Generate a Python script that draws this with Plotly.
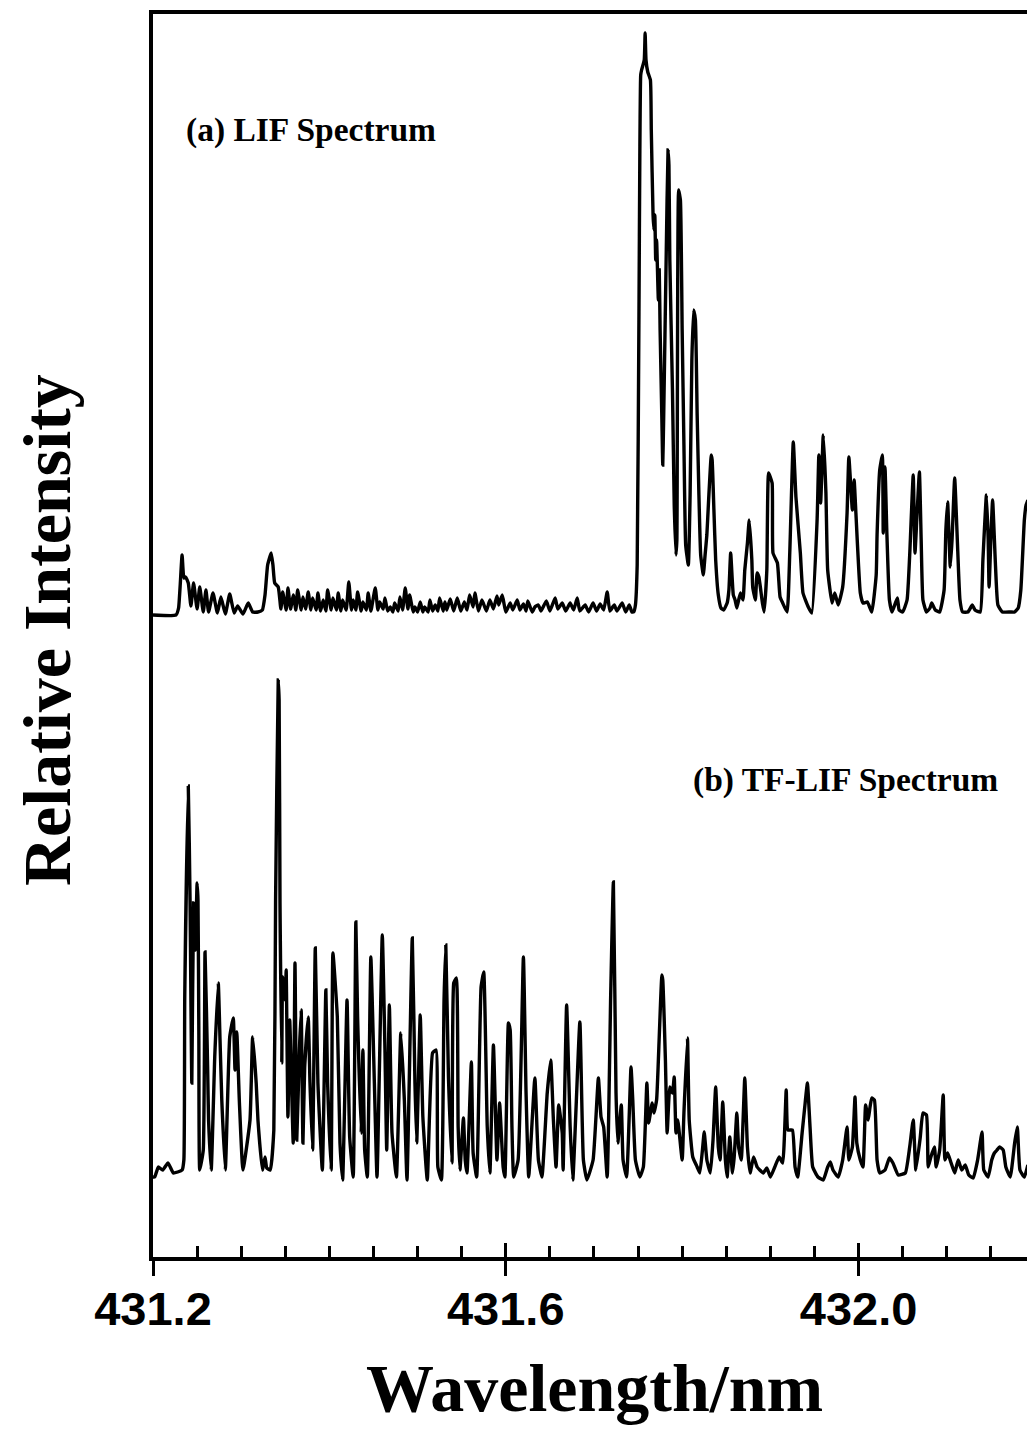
import plotly.graph_objects as go

# ---- (a) LIF spectrum: wavelength (nm) and intensity (arb. units above its baseline)
lif_nm = [
    431.200, 431.226, 431.229, 431.233, 431.235, 431.237, 431.240, 431.243, 431.246, 431.250,
    431.253, 431.257, 431.260, 431.263, 431.268, 431.273, 431.277, 431.282, 431.287, 431.292,
    431.296, 431.302, 431.308, 431.313, 431.319, 431.324, 431.327, 431.330, 431.334, 431.336,
    431.338,
    431.342, 431.345, 431.347, 431.351, 431.353, 431.356, 431.359, 431.362, 431.364, 431.368,
    431.370, 431.373, 431.376, 431.379, 431.381, 431.385, 431.387, 431.390, 431.393, 431.396,
    431.398, 431.402, 431.404, 431.408, 431.410, 431.413, 431.415, 431.419, 431.422, 431.425,
    431.427, 431.430, 431.432, 431.436, 431.438, 431.442, 431.444, 431.447, 431.452, 431.455,
    431.457, 431.461, 431.463, 431.466, 431.469, 431.472, 431.474, 431.478, 431.480, 431.483,
    431.486, 431.489, 431.491, 431.495, 431.497, 431.500, 431.503, 431.506, 431.508, 431.512,
    431.514, 431.517, 431.520, 431.523, 431.525, 431.529, 431.531,
    431.533, 431.537, 431.541, 431.545, 431.549, 431.553, 431.556, 431.559, 431.563, 431.565,
    431.569, 431.573, 431.578, 431.582, 431.586, 431.590, 431.592, 431.596, 431.600, 431.605,
    431.608, 431.613, 431.616, 431.620, 431.623, 431.625, 431.630, 431.633, 431.637, 431.640,
    431.646, 431.650, 431.656, 431.659, 431.664, 431.668, 431.673, 431.677, 431.681, 431.684,
    431.690, 431.694, 431.699, 431.703, 431.707, 431.711, 431.715, 431.718, 431.723, 431.726,
    431.732, 431.736, 431.740, 431.743,
    431.745, 431.747, 431.749, 431.751, 431.752, 431.753, 431.754, 431.757, 431.758, 431.759,
    431.761, 431.764, 431.765, 431.767, 431.768, 431.769, 431.770, 431.771, 431.773, 431.774,
    431.775, 431.777, 431.778, 431.779, 431.782, 431.784, 431.785, 431.786, 431.789, 431.791,
    431.793, 431.794, 431.796, 431.798, 431.800, 431.802, 431.804, 431.807, 431.809, 431.811,
    431.813, 431.815, 431.817, 431.819, 431.821, 431.824, 431.826, 431.828, 431.830, 431.833,
    431.834, 431.836, 431.838, 431.841, 431.844, 431.847, 431.851, 431.853, 431.855,
    431.858, 431.860, 431.862, 431.866, 431.869, 431.871, 431.874, 431.876, 431.879, 431.880,
    431.883, 431.885, 431.887, 431.891, 431.893, 431.896, 431.898, 431.902, 431.903, 431.908,
    431.911, 431.914, 431.919, 431.922, 431.926, 431.929, 431.934, 431.937, 431.943, 431.947,
    431.953, 431.955, 431.957, 431.960, 431.963, 431.965, 431.970, 431.973, 431.977, 431.982,
    431.987, 431.989, 431.993, 431.995, 431.997, 432.002, 432.005, 432.010, 432.015, 432.020,
    432.021, 432.024, 432.027, 432.028, 432.030, 432.032, 432.035, 432.038, 432.044, 432.046,
    432.050, 432.055, 432.058, 432.062, 432.064, 432.066, 432.069, 432.071, 432.073, 432.077,
    432.081, 432.083, 432.087, 432.092, 432.097, 432.099, 432.101, 432.104, 432.106, 432.109,
    432.112, 432.115, 432.118, 432.124, 432.129, 432.132, 432.138, 432.141, 432.145, 432.147,
    432.148, 432.150, 432.152, 432.155, 432.158, 432.163, 432.172, 432.177, 432.181, 432.184,
    432.188, 432.190, 432.192,
]
lif_int = [
    0, 0, 7, 60, 37, 38, 32, 9, 32, 6,
    28, 3, 25, 3, 22, 2, 18, 1, 21, 2,
    9, 1, 12, 3, 3, 5, 20, 50, 62, 50,
    32,
    28, 6, 23, 5, 27, 6, 20, 5, 25, 5,
    18, 6, 23, 5, 17, 5, 22, 4, 15, 4,
    25, 5, 17, 5, 22, 4, 15, 5, 33, 5,
    15, 5, 23, 4, 13, 5, 22, 4, 27, 5,
    13, 6, 17, 4, 8, 3, 12, 4, 18, 5,
    27, 6, 20, 3, 8, 3, 13, 3, 8, 3,
    15, 4, 10, 4, 17, 4, 13,
    5, 16, 4, 17, 4, 13, 5, 20, 8, 22,
    4, 15, 4, 15, 6, 19, 10, 20, 3, 12,
    5, 15, 5, 11, 4, 14, 3, 8, 10, 4,
    14, 4, 17, 6, 12, 4, 12, 5, 17, 4,
    10, 3, 12, 4, 11, 5, 23, 4, 10, 4,
    12, 3, 10, 3,
    3, 10, 50, 300, 460, 540, 545, 555, 582, 555,
    543, 535, 485, 400, 385, 400, 355, 375, 315, 345,
    285, 195, 150, 195, 365, 465, 450, 355, 225, 110,
    60, 75, 425, 415, 285, 170, 70, 50, 120, 255,
    305, 295, 200, 120, 60, 40, 60, 80, 115, 160,
    155, 105, 55, 20, 7, 5, 12, 25, 62,
    20, 15, 7, 22, 15, 45, 72, 95, 55, 28,
    15, 42, 38, 12, 3, 45, 142, 132, 62, 52,
    18, 12, 3, 62, 173, 118, 62, 22, 8, 2,
    95, 160, 112, 180, 122, 45, 12, 22, 10, 28,
    102, 158, 105, 135, 102, 22, 12, 13, 3, 40,
    80, 145, 160, 82, 148, 85, 15, 3, 17, 5,
    3, 15, 60, 140, 62, 95, 143, 75, 15, 3,
    7, 12, 5, 3, 25, 85, 113, 48, 75, 137,
    75, 15, 3, 3, 10, 5, 3, 55, 120, 75,
    28, 75, 115, 55, 10, 3, 3, 3, 7, 25,
    95, 110, 115,
]

# ---- (b) TF-LIF spectrum: wavelength (nm) and intensity (arb. units above its baseline)
tf_nm = [
    431.200, 431.202, 431.206, 431.211, 431.217, 431.223, 431.228, 431.233, 431.235, 431.236,
    431.240, 431.242, 431.243, 431.244, 431.246, 431.248, 431.250, 431.251, 431.252, 431.253,
    431.257, 431.259, 431.262, 431.263, 431.266, 431.270, 431.274, 431.276, 431.278, 431.282,
    431.287, 431.291, 431.293, 431.295, 431.298, 431.302, 431.310, 431.313, 431.317, 431.319,
    431.324, 431.327, 431.329, 431.333, 431.337, 431.339, 431.342, 431.343, 431.344, 431.346,
    431.347, 431.350, 431.351, 431.353, 431.355, 431.359, 431.361, 431.363, 431.366, 431.368,
    431.370, 431.372, 431.376, 431.378, 431.381, 431.384, 431.387, 431.392, 431.396, 431.398,
    431.402, 431.404, 431.409, 431.412, 431.415, 431.420, 431.423, 431.427, 431.430, 431.432,
    431.436, 431.438, 431.440, 431.443, 431.447, 431.451, 431.454, 431.460, 431.463, 431.465,
    431.468, 431.471, 431.476, 431.481, 431.485, 431.488, 431.494, 431.497, 431.499, 431.503,
    431.506, 431.511, 431.517, 431.521, 431.523, 431.527, 431.530, 431.532, 431.535, 431.539,
    431.541, 431.544, 431.546, 431.548, 431.552, 431.554, 431.556, 431.561, 431.563, 431.567,
    431.572, 431.575, 431.579, 431.582, 431.586, 431.590, 431.593, 431.597, 431.599, 431.603,
    431.605, 431.607, 431.609, 431.614, 431.620, 431.623, 431.626, 431.633, 431.637, 431.641,
    431.647, 431.651, 431.654, 431.657, 431.660, 431.664, 431.665, 431.669, 431.673, 431.676,
    431.684, 431.688, 431.692, 431.699, 431.705, 431.708, 431.711, 431.715, 431.719, 431.722,
    431.725, 431.727, 431.731, 431.733, 431.737, 431.742, 431.744, 431.747, 431.752, 431.756,
    431.760, 431.762, 431.766, 431.768, 431.771, 431.774, 431.777, 431.778, 431.781, 431.783,
    431.786, 431.789, 431.791, 431.793, 431.795, 431.800, 431.802, 431.806, 431.808, 431.812,
    431.817, 431.820, 431.823, 431.825, 431.828, 431.832, 431.835, 431.838, 431.841, 431.843,
    431.846, 431.849, 431.851, 431.854, 431.857, 431.859, 431.862, 431.864, 431.867, 431.871,
    431.874, 431.877, 431.881, 431.885, 431.888, 431.892, 431.896, 431.900, 431.905, 431.910,
    431.914, 431.918, 431.920, 431.925, 431.928, 431.931, 431.936, 431.939, 431.942, 431.945,
    431.948, 431.954, 431.960, 431.965, 431.968, 431.971, 431.977, 431.982, 431.987, 431.989,
    431.993, 431.996, 431.998, 432.002, 432.005, 432.008, 432.011, 432.013, 432.015, 432.018,
    432.021, 432.024, 432.030, 432.035, 432.039, 432.045, 432.053, 432.058, 432.062, 432.065,
    432.070, 432.073, 432.077, 432.079, 432.082, 432.086, 432.088, 432.092, 432.096, 432.098,
    432.101, 432.105, 432.109, 432.113, 432.117, 432.121, 432.125, 432.130, 432.135, 432.140,
    432.142, 432.147, 432.151, 432.154, 432.157, 432.160, 432.164, 432.167, 432.172, 432.177,
    432.180, 432.183, 432.188, 432.192,
]
tf_int = [
    3, 3, 13, 10, 17, 7, 8, 10, 20, 183,
    394, 280, 180, 97, 277, 230, 297, 280, 143, 10,
    30, 228, 110, 60, 10, 123, 197, 140, 80, 10,
    143, 162, 110, 148, 77, 10, 60, 143, 97, 60,
    10, 23, 12, 10, 50, 280, 500, 480, 277, 117,
    203, 180, 210, 63, 160, 37, 217, 40, 130, 170,
    37, 113, 163, 97, 30, 232, 97, 10, 190, 97,
    10, 227, 163, 37, 0, 180, 43, 3, 258, 163,
    47, 130, 30, 3, 223, 97, 3, 245, 130, 30,
    175, 47, 3, 147, 80, 0, 242, 97, 37, 165,
    63, 0, 127, 130, 13, 0, 180, 235, 103, 17,
    197, 202, 53, 10, 62, 20, 7, 118, 27, 3,
    193, 208, 53, 7, 135, 20, 77, 13, 3, 157,
    150, 53, 3, 20, 223, 87, 3, 102, 20, 3,
    87, 120, 60, 13, 75, 47, 10, 175, 53, 0,
    158, 20, 0, 20, 102, 63, 53, 3, 187, 298,
    87, 37, 75, 20, 3, 113, 80, 20, 3, 13,
    97, 57, 77, 67, 80, 143, 205, 200, 120, 47,
    93, 87, 103, 47, 60, 20, 67, 142, 60, 23,
    13, 7, 30, 48, 20, 7, 40, 93, 33, 20,
    78, 20, 3, 43, 7, 23, 67, 33, 20, 102,
    33, 7, 23, 13, 10, 7, 12, 3, 13, 23,
    17, 90, 50, 50, 13, 3, 47, 73, 97, 53,
    13, 3, 0, 13, 18, 10, 3, 20, 53, 20,
    33, 83, 37, 20, 13, 75, 60, 73, 82, 80,
    20, 7, 10, 22, 17, 5, 7, 33, 60, 10,
    43, 67, 65, 13, 23, 33, 13, 30, 85, 20,
    27, 17, 7, 20, 10, 15, 5, 2, 20, 48,
    10, 3, 20, 27, 30, 33, 30, 13, 3, 37,
    53, 10, 3, 15,
]

# vertical placement of each spectrum on the shared intensity axis
LIF_OFFSET = 642
TF_OFFSET = 77
Y_MAX = 1243

X_RANGE = [431.2, 432.191]
MAJOR_TICKS = [431.2, 431.6, 432.0]
MAJOR_LABELS = ["431.2", "431.6", "432.0"]

line_style = dict(color="black", width=3.4, shape="spline", smoothing=0.4)

fig = go.Figure()
fig.add_trace(go.Scatter(
    x=lif_nm, y=[v + LIF_OFFSET for v in lif_int],
    mode="lines", line=line_style, showlegend=False, hoverinfo="skip",
))
fig.add_trace(go.Scatter(
    x=tf_nm, y=[v + TF_OFFSET for v in tf_int],
    mode="lines", line=line_style, showlegend=False, hoverinfo="skip",
    xaxis="x2",
))

serif_bold = dict(family="Liberation Serif, Times New Roman, serif", color="black", weight="bold")

fig.update_layout(
    width=1027, height=1449,
    margin=dict(l=153, r=0, t=14, b=192),
    paper_bgcolor="white", plot_bgcolor="white",
    xaxis=dict(
        range=X_RANGE, showgrid=False, zeroline=False,
        showline=True, linecolor="black", linewidth=4, mirror=True,
        tickmode="array", tickvals=MAJOR_TICKS, ticks="inside",
        ticklen=14, tickwidth=3, tickcolor="black", showticklabels=False,
        minor=dict(ticks="inside", tick0=431.2, dtick=0.05, ticklen=11,
                   tickwidth=3, tickcolor="black", showgrid=False),
    ),
    xaxis2=dict(
        range=X_RANGE, matches="x", overlaying="x", anchor="y", side="bottom",
        showgrid=False, zeroline=False, showline=False,
        tickmode="array", tickvals=MAJOR_TICKS, ticktext=MAJOR_LABELS,
        ticks="outside", ticklen=18, tickwidth=3, tickcolor="black",
        tickfont=dict(family="Liberation Sans, Arial, sans-serif", size=47,
                      color="black", weight="bold"),
        ticklabelstandoff=-7,
    ),
    yaxis=dict(
        range=[0, Y_MAX], showgrid=False, zeroline=False,
        showline=True, linecolor="black", linewidth=4,
        ticks="", showticklabels=False,
    ),
    annotations=[
        dict(text="(a) LIF Spectrum", x=431.379, y=1127, xref="x", yref="y",
             showarrow=False, xanchor="center", yanchor="middle",
             font=dict(size=33.5, **serif_bold)),
        dict(text="(b) TF-LIF Spectrum", x=431.985, y=477, xref="x", yref="y",
             showarrow=False, xanchor="center", yanchor="middle",
             font=dict(size=33.5, **serif_bold)),
        dict(text="Relative Intensity", x=-0.1213, y=0.5044, xref="paper", yref="paper",
             textangle=-90, showarrow=False, xanchor="center", yanchor="middle",
             font=dict(size=68, **serif_bold)),
        dict(text="Wavelength/nm", x=0.5057, y=-0.1055, xref="paper", yref="paper",
             showarrow=False, xanchor="center", yanchor="middle",
             font=dict(size=68, **serif_bold)),
    ],
)

fig.write_html("out.html")
